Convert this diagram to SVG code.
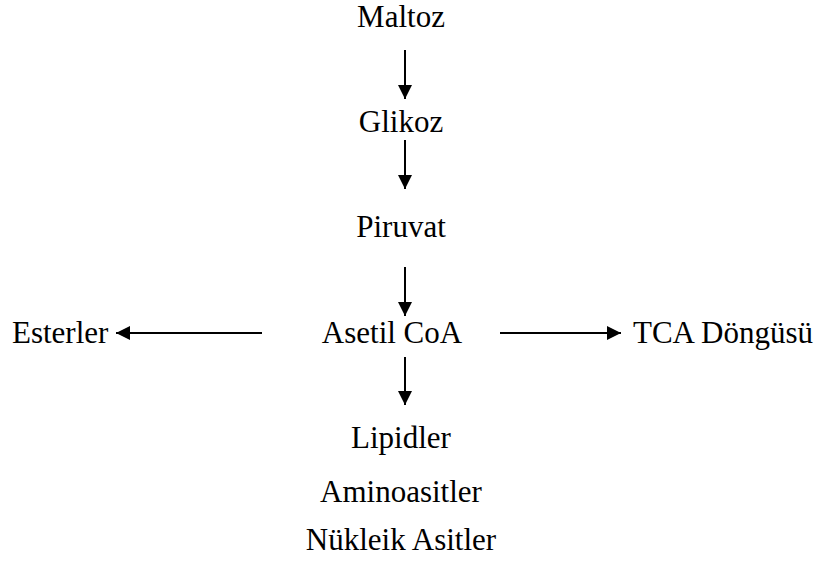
<svg xmlns="http://www.w3.org/2000/svg" width="825" height="563" viewBox="0 0 825 563">
<style>
text{font-family:"Liberation Serif","Times New Roman",serif;font-size:31px;fill:#000}
.c line{stroke:#000;stroke-width:2}
</style>
<defs>
<marker id="ah" viewBox="0 0 14 14" refX="14" refY="7" markerWidth="14" markerHeight="14" markerUnits="userSpaceOnUse" orient="auto">
<path d="M0,0 L14,7 L0,14 Z" fill="#000"/>
</marker>
</defs>
<rect width="825" height="563" fill="#fff"/>
<g id="maltoz"><text x="401" y="27" text-anchor="middle">Maltoz</text></g>
<g id="glikoz"><text x="401" y="132" text-anchor="middle">Glikoz</text></g>
<g id="piruvat"><text x="401" y="237" text-anchor="middle">Piruvat</text></g>
<g id="asetil"><text x="392" y="343" text-anchor="middle">Asetil CoA</text></g>
<g id="esterler"><text x="12" y="343">Esterler</text></g>
<g id="tca"><text x="633" y="343">TCA Döngüsü</text></g>
<g id="lipidler"><text x="401" y="448" text-anchor="middle">Lipidler</text></g>
<g id="amino"><text x="401" y="502" text-anchor="middle">Aminoasitler</text></g>
<g id="nukleik"><text x="401" y="550" text-anchor="middle">Nükleik Asitler</text></g>
<g class="c" id="connectors">
<line x1="405" y1="50" x2="405" y2="99" marker-end="url(#ah)"/>
<line x1="405" y1="140" x2="405" y2="189" marker-end="url(#ah)"/>
<line x1="405" y1="267" x2="405" y2="316" marker-end="url(#ah)"/>
<line x1="405" y1="357" x2="405" y2="405" marker-end="url(#ah)"/>
<line x1="262" y1="333" x2="116" y2="333" marker-end="url(#ah)"/>
<line x1="500" y1="333" x2="621" y2="333" marker-end="url(#ah)"/>
</g>
</svg>
